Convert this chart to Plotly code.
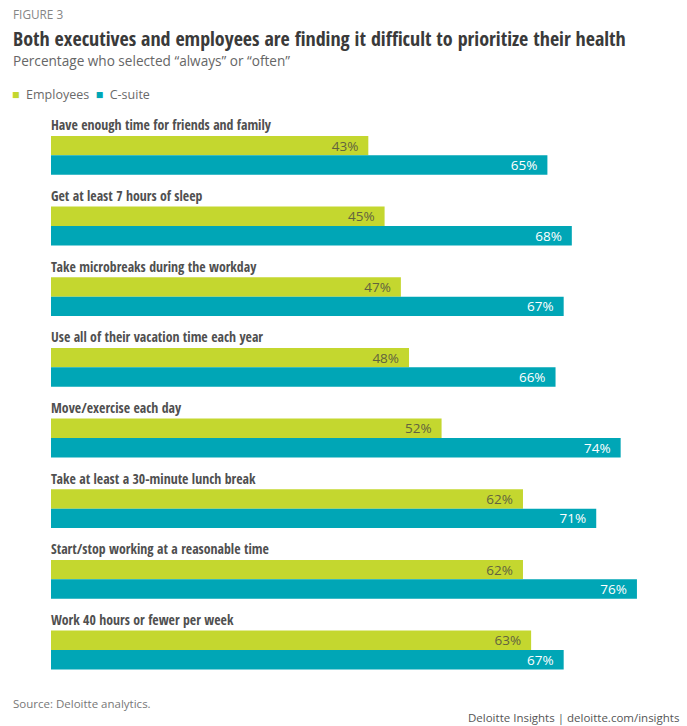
import plotly.graph_objects as go

# survey items, top to bottom
categories = [
    "Have enough time for friends and family",
    "Get at least 7 hours of sleep",
    "Take microbreaks during the workday",
    "Use all of their vacation time each year",
    "Move/exercise each day",
    "Take at least a 30-minute lunch break",
    "Start/stop working at a reasonable time",
    "Work 40 hours or fewer per week",
]
employees = [43, 45, 47, 48, 52, 62, 62, 63]
csuite = [65, 68, 67, 66, 74, 71, 76, 67]

GREEN = "#c4d72f"
TEAL = "#00a6b6"
COND = "Open Sans Condensed, Roboto Condensed, sans-serif"
REG = "Open Sans, sans-serif"
NB = "\u00a0"

W, H = 687, 726
ML, MR, MT, MB = 51, 20, 120, 34
PW, PH = W - ML - MR, H - MT - MB


def px(x):
    return (x - ML) / PW


def py(y):
    return (H - MB - y) / PH


fig = go.Figure()
fig.add_trace(go.Bar(
    y=categories, x=employees, orientation="h", name="Employees",
    marker=dict(color=GREEN, line=dict(width=0)),
    texttemplate="%{x}%" + NB * 2, textposition="inside",
    insidetextanchor="end", constraintext="none",
    insidetextfont=dict(family=REG, size=13.5, color="#62633f"),
    hoverinfo="skip",
))
fig.add_trace(go.Bar(
    y=categories, x=csuite, orientation="h", name="C-suite",
    marker=dict(color=TEAL, line=dict(width=0)),
    texttemplate="%{x}%" + NB * 2, textposition="inside",
    insidetextanchor="end", constraintext="none",
    insidetextfont=dict(family=REG, size=13.5, color="white"),
    hoverinfo="skip",
))

annotations = []
# category labels above each pair
for c in categories:
    annotations.append(dict(
        x=0, xref="paper", y=c, yref="y", yshift=30.5, xshift=-2,
        xanchor="left", yanchor="middle", showarrow=False,
        text=c, font=dict(family=COND, size=13.8, color="#505050", weight="bold"),
    ))

# header / footer text
annotations += [
    dict(x=px(11), y=py(14), text="FIGURE 3",
         font=dict(family=REG, size=11.8, color="#858585")),
    dict(x=px(11), y=py(38),
         text="Both executives and employees are finding it difficult to prioritize their health",
         font=dict(family=COND, size=20, color="#3a3a3a", weight="bold")),
    dict(x=px(11), y=py(60), text="Percentage who selected \u201calways\u201d or \u201coften\u201d",
         font=dict(family=REG, size=13.6, color="#666666")),
    dict(x=px(10), y=py(94),
         text=f"<span style='color:{GREEN}'>\u25a0</span>" + NB * 2 + "Employees" + NB * 2 +
              f"<span style='color:{TEAL}'>\u25a0</span>" + NB * 2 + "C-suite",
         font=dict(family=REG, size=12.5, color="#6a6a6a")),
    dict(x=px(11), y=py(703), text="Source: Deloitte analytics.",
         font=dict(family=REG, size=11.5, color="#777777")),
]
for a in annotations[-5:]:
    a.update(xref="paper", yref="paper", xanchor="left", yanchor="middle", showarrow=False)

annotations.append(dict(
    x=px(681), y=py(717), xref="paper", yref="paper", xanchor="right", yanchor="middle",
    showarrow=False, text="Deloitte Insights | deloitte.com/insights",
    font=dict(family=REG, size=11.5, color="#555555"),
))

fig.update_layout(
    width=W, height=H,
    margin=dict(l=ML, r=MR, t=MT, b=MB),
    paper_bgcolor="white", plot_bgcolor="white",
    barmode="group", bargap=0.45, bargroupgap=0,
    showlegend=False,
    annotations=annotations,
    xaxis=dict(range=[(ML - 18.3) / 8.14, (W - MR - 18.3) / 8.14],
               visible=False, showgrid=False, zeroline=False),
    yaxis=dict(autorange="reversed", visible=False, showgrid=False),
)

fig.write_html("out.html", config={"displayModeBar": False},
               post_script="document.body.style.margin='0';document.body.style.overflow='hidden';")
